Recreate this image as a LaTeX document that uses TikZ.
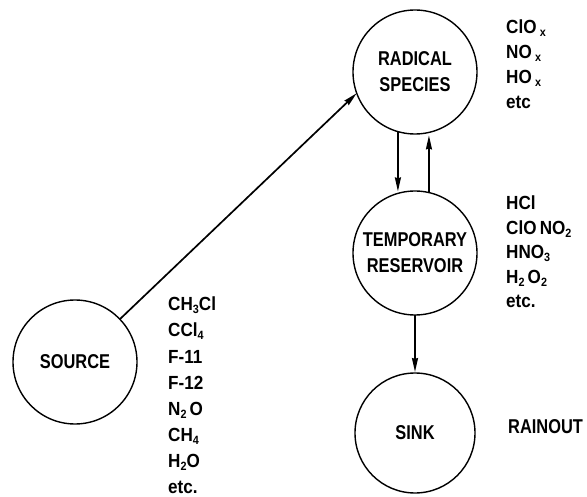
\documentclass[tikz,border=0pt]{standalone}
\usepackage{fontspec}
\setmainfont{Liberation Sans}[FakeStretch=0.82]
\newfontfamily\labfont{Liberation Sans}[FakeStretch=0.9]
\usetikzlibrary{arrows.meta}
\newcommand{\lowsub}[1]{\raisebox{-3pt}{\fontsize{12}{12}\selectfont #1}}
\begin{document}
\begin{tikzpicture}[x=1pt,y=-1pt,
  circ/.style={circle, draw, line width=1.4pt, minimum size=124pt, inner sep=0pt, outer sep=0pt,
    font=\bfseries\fontsize{20}{26}\selectfont, align=center},
  lab/.style={anchor=base west, inner sep=0pt, font=\labfont\bfseries\fontsize{19}{19}\selectfont},
  arr/.style={line width=1.7pt, -{Stealth[length=14pt,width=6pt,inset=1pt]}}]
\useasboundingbox (0,0) rectangle (587,497);
\node[circ] (rad) at (415,72) {RADICAL\\SPECIES};
\node[circ] (res) at (415,253) {TEMPORARY\\RESERVOIR};
\node[circ, minimum size=120pt] (sink) at (415,433) {SINK};
\node[circ] (src) at (75,362) {SOURCE};
\draw[arr] (src) -- (rad.200);
\draw[arr, shorten >=2pt] (rad.254) -- (res.106);
\draw[arr, shorten >=3pt] (res.77) -- (rad.283);
\draw[arr, shorten >=1pt] (res.south) -- (sink.north);
\foreach \t [count=\i] in {ClO\,\lowsub{x}, NO\,\lowsub{x}, HO\,\lowsub{x}, etc}
  \node[lab] (rl\i) at (506,{9+25*\i}) {\t};
\foreach \t [count=\i] in {HCl, ClO\,NO\lowsub{2}, HNO\lowsub{3}, H\lowsub{2}\,O\lowsub{2}, etc.}
  \node[lab] (tl\i) at (506,{185.5+24.5*\i}) {\t};
\foreach \t [count=\i] in {CH\lowsub{3}Cl, CCl\lowsub{4}, F-11, F-12, N\lowsub{2}\,O, CH\lowsub{4}, H\lowsub{2}O, etc.}
  \node[lab] (sl\i) at (168,{285+26*\i}) {\t};
\node[anchor=base west, inner sep=0pt, font=\bfseries\fontsize{20}{20}\selectfont] (rain) at (508,433) {RAINOUT};
\end{tikzpicture}
\end{document}
